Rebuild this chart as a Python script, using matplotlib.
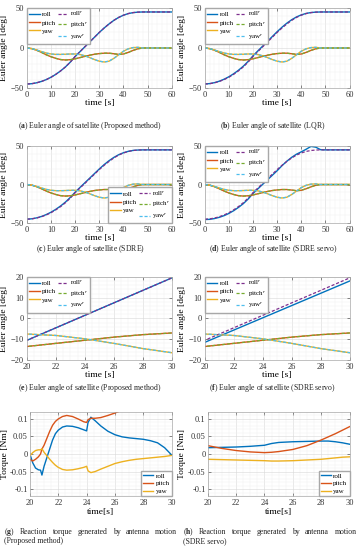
import numpy as np
import matplotlib
matplotlib.use("Agg")
import matplotlib.pyplot as plt
from matplotlib.ticker import AutoMinorLocator

plt.rcParams["font.family"] = ["Liberation Serif", "DejaVu Serif"]
plt.rcParams["mathtext.fontset"] = "custom"
plt.rcParams["mathtext.rm"] = "Liberation Serif"
plt.rcParams["mathtext.it"] = "Liberation Serif:italic"
plt.rcParams["mathtext.bf"] = "Liberation Serif:bold"

# MATLAB default colour order
C_ROLL, C_PITCH, C_YAW = "#0072BD", "#D95319", "#EDB120"
C_ROLL_R, C_PITCH_R, C_YAW_R = "#7E2F8E", "#77AC30", "#4DBEEE"

# ---- Euler angles, t = 0..60 s every 2 s ----
t_euler = np.arange(0, 61, 2)
roll_ref = [-45, -44.6, -43.5, -41.8, -39.5, -36.5, -32.8, -28.5, -23.5, -17.5,
            -10.5, -4.5, 1.5, 7.5, 13.5, 19.5, 25, 30, 34.5, 38.2,
            41, 43, 44.2, 44.8, 45, 45, 45, 45, 45, 45, 45]
pitch_ref = [0, -0.8, -2.8, -5.5, -8.5, -11, -13, -14.5, -15, -14.6,
             -13.5, -12, -10.5, -9, -7.8, -7, -6.5, -6.5, -7.2, -8,
             -7.5, -5.5, -3, -1, 0, 0, 0, 0, 0, 0, 0]
yaw_ref = [0, -0.8, -2.5, -4.5, -6.3, -7.5, -8, -8, -7.8, -7.5,
           -7.5, -8.2, -9.8, -12, -14.5, -16.5, -17.5, -16.5, -13, -8.5,
           -4, -1, 0.5, 0.8, 0, 0, 0, 0, 0, 0, 0]

roll_prop = [-45, -44.6, -43.5, -41.8, -39.5, -36.5, -32.8, -28.5, -23.5, -17.5,
             -10.5, -4.5, 1.5, 7.5, 13.5, 19.5, 25, 30, 34.5, 38.2,
             41, 43, 44.2, 44.8, 45, 45, 45, 45, 45, 45, 45]
roll_lqr = [-45, -44.5, -43.3, -41.5, -39, -35.9, -32.1, -27.7, -22.6, -16.6,
            -9.7, -3.6, 2.4, 8.4, 14.4, 20.4, 26, 31, 35.3, 38.8,
            41.4, 43.2, 44.3, 44.8, 45, 45, 45, 45, 45, 45, 45]
roll_sdre = [-45, -44.5, -43.3, -41.5, -39, -35.9, -32.1, -27.7, -22.6, -16.6,
             -9.8, -3.7, 2.3, 8.3, 14.3, 20.3, 25.9, 30.9, 35.2, 38.7,
             41.3, 43.1, 44.3, 44.8, 45, 45, 45, 45, 45, 45, 45]
roll_servo = [-45.5, -45.2, -44.2, -42.6, -40.4, -37.5, -33.9, -29.6, -24.7, -18.7,
              -11.5, -5.6, 0.3, 6.2, 12.1, 18, 24.5, 30.3, 35.3, 39.4,
              42.5, 45.8, 49.5, 48.5, 45.2, 45, 45, 45, 45, 45, 45]

# ---- reaction torque, proposed method ----
t_tq_g = [20, 20.2, 20.4, 20.6, 20.75, 20.85, 21.0, 21.2, 21.4, 21.6, 21.8,
          22.0, 22.3, 22.6, 23.0, 23.4, 23.8, 24.0, 24.1, 24.3, 24.6, 25.0,
          25.5, 26.0, 26.5, 27.0, 27.5, 28.0, 28.5, 29.0, 29.5, 30.0]
tq_roll_g = [0.0, -0.025, -0.04, -0.045, -0.046, -0.06, -0.035, -0.01, 0.015, 0.04, 0.058,
             0.068, 0.077, 0.08, 0.079, 0.075, 0.069, 0.066, 0.09, 0.105, 0.095, 0.08,
             0.065, 0.055, 0.049, 0.046, 0.044, 0.042, 0.038, 0.032, 0.018, -0.003]
tq_pitch_g = [-0.015, -0.02, -0.015, -0.008, 0.0, 0.014, 0.025, 0.045, 0.065, 0.082, 0.093,
              0.1, 0.107, 0.11, 0.107, 0.1, 0.092, 0.09, 0.098, 0.102, 0.102, 0.104,
              0.11, 0.117, 0.125, 0.133, 0.14, 0.148, 0.155, 0.16, 0.165, 0.17]
tq_yaw_g = [-0.005, 0.004, 0.01, 0.012, 0.012, 0.015, 0.005, -0.005, -0.015, -0.024, -0.032,
            -0.038, -0.044, -0.046, -0.045, -0.042, -0.038, -0.035, -0.048, -0.053, -0.05, -0.043,
            -0.035, -0.027, -0.022, -0.018, -0.015, -0.013, -0.011, -0.009, -0.007, -0.004]

# ---- reaction torque, SDRE servo ----
t_tq_h = [20, 21, 22, 23, 24, 24.5, 25, 26, 27, 28, 28.5, 29, 29.5, 30]
tq_roll_h = [0.018, 0.019, 0.02, 0.022, 0.025, 0.03, 0.033, 0.035, 0.036, 0.037,
             0.037, 0.035, 0.032, 0.028]
tq_pitch_h = [0.024, 0.016, 0.01, 0.006, 0.004, 0.005, 0.007, 0.013, 0.024, 0.04,
              0.049, 0.058, 0.068, 0.078]
tq_yaw_h = [-0.015, -0.016, -0.017, -0.018, -0.019, -0.02, -0.02, -0.019, -0.017, -0.015,
            -0.013, -0.011, -0.009, -0.008]

fig = plt.figure(figsize=(3.6, 5.5), dpi=100)

COL_L = [0.075, 0.569]
COL_W = 0.402
ROWS = [(0.840, 0.1455), (0.5945, 0.140), (0.3455, 0.151), (0.098, 0.153)]
LEG = dict(fontsize=5, handlelength=1.5, handletextpad=0.3, borderpad=0.3,
           borderaxespad=0.0, frameon=True, fancybox=False, edgecolor="#a8a8a8",
           framealpha=1)


def style(ax, label_x):
    ax.tick_params(direction="in", length=2, width=0.4, labelsize=6, pad=2,
                   top=True, right=True, colors="#333333")
    ax.tick_params(which="minor", length=0, top=True, right=True)
    ax.xaxis.set_minor_locator(AutoMinorLocator())
    ax.yaxis.set_minor_locator(AutoMinorLocator())
    ax.grid(True, which="major", color="#d8d8d8", linewidth=0.4)
    ax.grid(True, which="minor", color="#efefef", linewidth=0.3)
    ax.set_axisbelow(True)
    ax.yaxis.set_label_coords(label_x, 0.5)
    for s in ax.spines.values():
        s.set_color("#a8a8a8")
        s.set_linewidth(0.5)


def euler(ax, roll, loc, xlim=(0, 60), ylim=(-50, 50), xticks=range(0, 61, 10), yticks=(-50, 0, 50)):
    ax.plot(t_euler, roll, color=C_ROLL, lw=1.0, label="roll")
    ax.plot(t_euler, pitch_ref, color=C_PITCH, lw=1.0, label="pitch")
    ax.plot(t_euler, yaw_ref, color=C_YAW, lw=1.0, label="yaw")
    ax.plot(t_euler, roll_ref, color=C_ROLL_R, lw=0.9, ls=(0, (2.5, 1.5)), label="roll$^r$")
    ax.plot(t_euler, pitch_ref, color=C_PITCH_R, lw=0.9, ls=(0, (2.5, 1.5)), label="pitch$^r$")
    ax.plot(t_euler, yaw_ref, color=C_YAW_R, lw=0.9, ls=(0, (2.5, 1.5)), label="yaw$^r$")
    ax.set_xlim(*xlim)
    ax.set_ylim(*ylim)
    ax.set_xticks(list(xticks))
    ax.set_yticks(list(yticks))
    ax.set_xlabel("time [s]", fontsize=6.8, labelpad=0.5)
    ax.set_ylabel("Euler angle [deg]", fontsize=6.8)
    style(ax, -0.13)
    ax.legend(loc=loc, ncol=2, columnspacing=0.3, labelspacing=0.35, **LEG)


def torque(ax, t, r, p, y):
    ax.plot(t, r, color=C_ROLL, lw=1.0, label="roll")
    ax.plot(t, p, color=C_PITCH, lw=1.0, label="pitch")
    ax.plot(t, y, color=C_YAW, lw=1.0, label="yaw")
    ax.set_xlim(20, 30)
    ax.set_ylim(-0.12, 0.12)
    ax.set_xticks(range(20, 31, 2))
    ax.set_yticks([-0.1, -0.05, 0, 0.05, 0.1])
    ax.set_yticklabels(["-0.1", "-0.05", "0", "0.05", "0.1"])
    ax.set_xlabel("time[s]", fontsize=6.8, labelpad=0.5)
    ax.set_ylabel("Torque [Nm]", fontsize=6.8)
    style(ax, -0.15)
    ax.tick_params(axis="y", pad=1.5)
    ax.legend(loc="lower right", labelspacing=0.25, **LEG)


axes = {}
for r, (bot, h) in enumerate(ROWS):
    for c in range(2):
        left = COL_L[c] + (0.008 if r == 3 else 0)
        width = COL_W - (0.008 if r == 3 else 0)
        axes[(r, c)] = fig.add_axes([left, bot, width, h])

euler(axes[(0, 0)], roll_prop, "upper left")
euler(axes[(0, 1)], roll_lqr, "upper left")
euler(axes[(1, 0)], roll_sdre, "lower right")
euler(axes[(1, 1)], roll_servo, "upper left")
euler(axes[(2, 0)], roll_prop, "upper left", xlim=(20, 30), ylim=(-20, 20),
      xticks=range(20, 31, 2), yticks=range(-20, 21, 10))
euler(axes[(2, 1)], roll_servo, "upper left", xlim=(20, 30), ylim=(-20, 20),
      xticks=range(20, 31, 2), yticks=range(-20, 21, 10))
torque(axes[(3, 0)], t_tq_g, tq_roll_g, tq_pitch_g, tq_yaw_g)
torque(axes[(3, 1)], t_tq_h, tq_roll_h, tq_pitch_h, tq_yaw_h)

CAP = dict(fontsize=5.6, color="#222222", va="center")
captions = [
    (0.250, 0.771, "a", "Euler angle of satellite (Proposed method)"),
    (0.758, 0.771, "b", "Euler angle of satellite (LQR)"),
    (0.250, 0.548, "c", "Euler angle of satellite (SDRE)"),
    (0.758, 0.548, "d", "Euler angle of satellite (SDRE servo)"),
    (0.250, 0.2945, "e", "Euler angle of satellite (Proposed method)"),
    (0.758, 0.2945, "f", "Euler angle of satellite (SDRE servo)"),
]
for x, y, letter, txt in captions:
    fig.text(x, y, "($\\mathbf{%s}$) %s" % (letter, txt), ha="center", **CAP)


def justified(x0, x1, y, first, rest):
    words = ["($\\mathbf{%s}$)" % first] + rest.split()
    texts = [fig.text(0, y, w, ha="left", **CAP) for w in words]
    rend = fig.canvas.get_renderer()
    widths = [t.get_window_extent(rend).width / fig.bbox.width for t in texts]
    gap = (x1 - x0 - sum(widths)) / (len(words) - 1)
    x = x0
    for t, w in zip(texts, widths):
        t.set_x(x)
        x += w + gap


justified(0.012, 0.492, 0.033, "g", "Reaction torque generated by antenna motion")
fig.text(0.012, 0.0164, "(Proposed method)", ha="left", **CAP)
justified(0.508, 0.99, 0.033, "h", "Reaction torque generated by antenna motion")
fig.text(0.508, 0.0164, "(SDRE servo)", ha="left", **CAP)

fig.savefig("out.png", dpi=100)
